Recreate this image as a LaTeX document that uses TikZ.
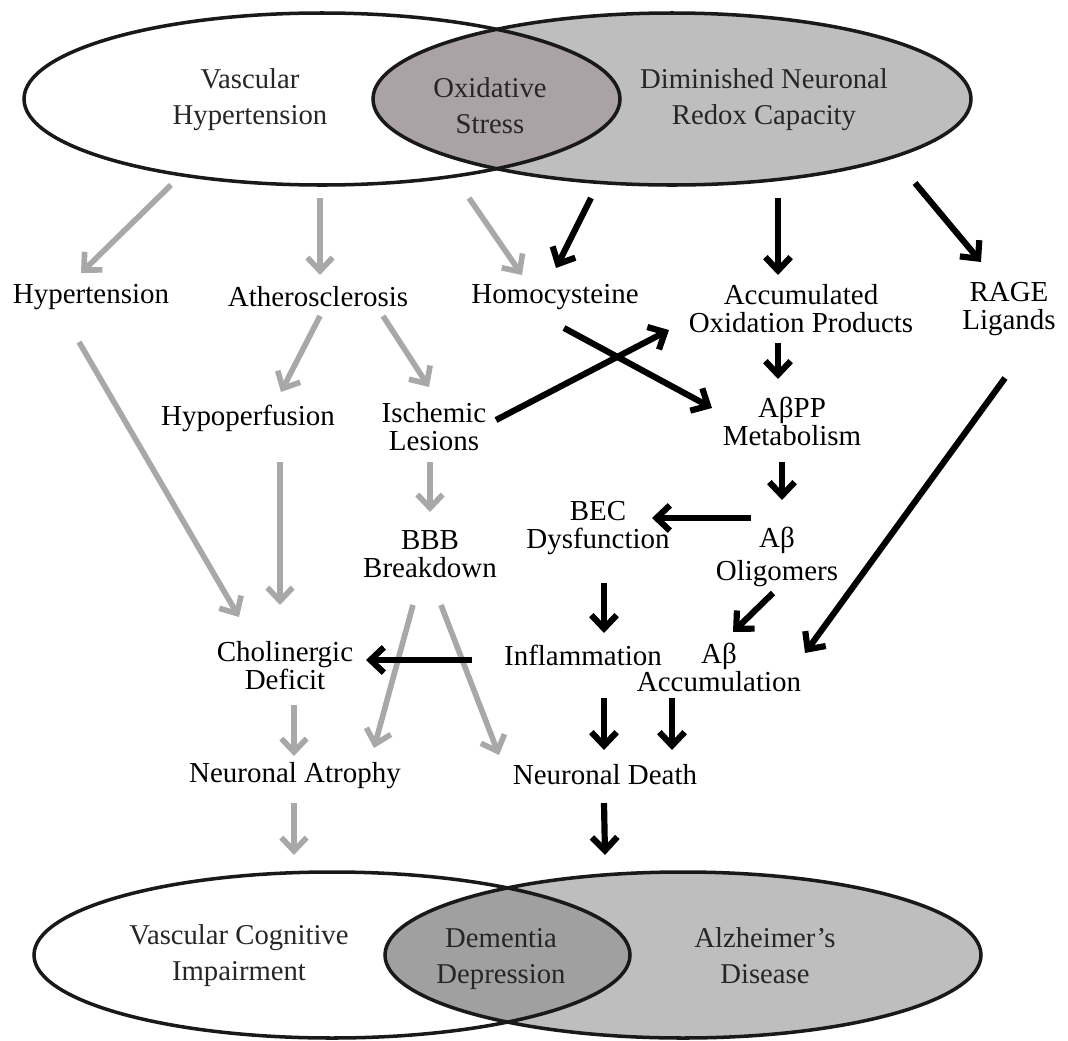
\documentclass[tikz,border=0pt]{standalone}
\usepackage{fontspec}
\setmainfont{Liberation Serif}
\usetikzlibrary{arrows.meta,calc}

\definecolor{setgray}{RGB}{190,190,190}
\definecolor{lenstop}{RGB}{170,162,164}
\definecolor{lensbot}{RGB}{160,160,160}
\definecolor{arrgray}{RGB}{168,168,168}

\tikzset{
  lbl/.style={inner sep=0pt, align=center, font=\fontsize{20.6}{20}\selectfont},
  vlbl/.style={lbl, font=\fontsize{20.4}{25.5}\selectfont, text=black!85},
  rim/.style={line width=2.5pt, draw=black!90},
  garrow/.style={draw=arrgray, line width=4pt, -{Straight Barb[length=9.5pt,width=18pt]}},
  barrow/.style={draw=black, line width=4.4pt, -{Straight Barb[length=9.5pt,width=18pt]}}
}

\begin{document}
\begin{tikzpicture}[x=0.025cm, y=-0.025cm]
    \useasboundingbox (0,0) rectangle (1068,1041);
    \coordinate (vh) at (322,99);
    \coordinate (dn) at (672,99);
    \coordinate (vc) at (332,955);
    \coordinate (ad) at (683,955);

    \fill[setgray] (dn) ellipse [x radius=299, y radius=86];
    \begin{scope}
        \clip (dn) ellipse [x radius=299, y radius=86];
        \fill[lenstop] (vh) ellipse [x radius=298, y radius=86];
    \end{scope}
    \draw[rim] (vh) ellipse [x radius=298, y radius=86];
    \draw[rim] (dn) ellipse [x radius=299, y radius=86];

    \fill[setgray] (ad) ellipse [x radius=298, y radius=83];
    \begin{scope}
        \clip (ad) ellipse [x radius=298, y radius=83];
        \fill[lensbot] (vc) ellipse [x radius=298, y radius=83];
    \end{scope}
    \draw[rim] (vc) ellipse [x radius=298, y radius=83];
    \draw[rim] (ad) ellipse [x radius=298, y radius=83];

    \node[vlbl] (vhtxt) at (250,100) {Vascular\\Hypertension};
    \node[vlbl] (oxtxt) at (490,106) {Oxidative\\Stress};
    \node[vlbl] (dntxt) at (764,100) {Diminished Neuronal\\Redox Capacity};
    \node[vlbl] (vctxt) at (239,956) {Vascular Cognitive\\Impairment};
    \node[vlbl] (dmtxt) at (501,959) {Dementia\\Depression};
    \node[vlbl] (adtxt) at (765,956) {Alzheimer’s\\Disease};

    \node[lbl] (hyper) at (91,297) {Hypertension};
    \node[lbl] (athero) at (318,297) {Atherosclerosis};
    \node[lbl] (homo) at (555,297) {Homocysteine};
    \node[lbl] (accum) at (801,309) {Accumulated\\Oxidation Products};
    \node[lbl] (rage) at (1009,309) {RAGE\\Ligands};
    \node[lbl] (hypo) at (248,418) {Hypoperfusion};
    \node[lbl] (isch) at (434,427) {Ischemic\\Lesions};
    \node[lbl] (abpp) at (792,421) {AβPP\\Metabolism};
    \node[lbl] (bbb) at (430,554) {BBB\\Breakdown};
    \node[lbl] (bec) at (598,528) {BEC\\Dysfunction};
    \node[lbl] (olig) at (777,557) {Aβ\\[4pt]Oligomers};
    \node[lbl] (chol) at (285,666) {Cholinergic\\Deficit};
    \node[lbl] (infl) at (583,655) {Inflammation};
    \node[lbl] (acc) at (719,667) {Aβ\\Accumulation};
    \node[lbl] (atro) at (295,776) {Neuronal Atrophy};
    \node[lbl] (death) at (605,775) {Neuronal Death};

    \draw[garrow] ($(vh)+(-151,86)$) -- ($(hyper)+(-10,-24)$);
    \draw[garrow] ($(vh)+(-2,99)$) -- ($(athero)+(2,-22)$);
    \draw[garrow] ($(vh)+(147,99)$) -- ($(homo)+(-33,-22)$);
    \draw[garrow] ($(athero)+(2,19)$) -- ($(hypo)+(33,-26)$);
    \draw[garrow] ($(athero)+(65,19)$) -- ($(isch)+(-5,-40)$);
    \draw[garrow] ($(hyper)+(-12,45)$) -- ($(chol)+(-46,-49)$);
    \draw[garrow] ($(hypo)+(32,44)$) -- ($(chol)+(-5,-61)$);
    \draw[garrow] ($(isch)+(-4,35)$) -- ($(bbb)+(0,-42)$);
    \draw[garrow] ($(bbb)+(-17,51)$) -- ($(atro)+(79,-28)$);
    \draw[garrow] ($(bbb)+(11,51)$) -- ($(death)+(-106,-20)$);
    \draw[garrow] ($(chol)+(9,39)$) -- ($(atro)+(-1,-20)$);
    \draw[garrow] ($(atro)+(-1,27)$) -- ($(vc)+(-38,-100)$);

    \draw[barrow] ($(isch)+(62,-7)$) -- ($(accum)+(-132,21)$);
    \draw[barrow] ($(homo)+(9,31)$) -- ($(abpp)+(-80,-13)$);
    \draw[barrow] ($(dn)+(-81,99)$) -- ($(homo)+(1,-29)$);
    \draw[barrow] ($(dn)+(106,99)$) -- ($(accum)+(-23,-34)$);
    \draw[barrow] ($(dn)+(243,84)$) -- ($(rage)+(-28,-47)$);
    \draw[barrow] ($(accum)+(-23,34)$) -- ($(abpp)+(-14,-42)$);
    \draw[barrow] ($(abpp)+(-10,41)$) -- ($(olig)+(5,-57)$);
    \draw[barrow] ($(rage)+(-4,69)$) -- ($(acc)+(86,-14)$);
    \draw[barrow] ($(olig)+(-26,-39)$) -- ($(bec)+(54,-10)$);
    \draw[barrow] ($(bec)+(6,55)$) -- ($(infl)+(21,-22)$);
    \draw[barrow] ($(olig)+(-4,36)$) -- ($(acc)+(14,-35)$);
    \draw[barrow] ($(infl)+(-111,5)$) -- ($(chol)+(81,-6)$);
    \draw[barrow] ($(infl)+(21,43)$) -- ($(death)+(-1,-25)$);
    \draw[barrow] ($(acc)+(-47,31)$) -- ($(death)+(67,-25)$);
    \draw[barrow] ($(death)+(-1,28)$) -- ($(ad)+(-78,-100)$);
\end{tikzpicture}
\end{document}
